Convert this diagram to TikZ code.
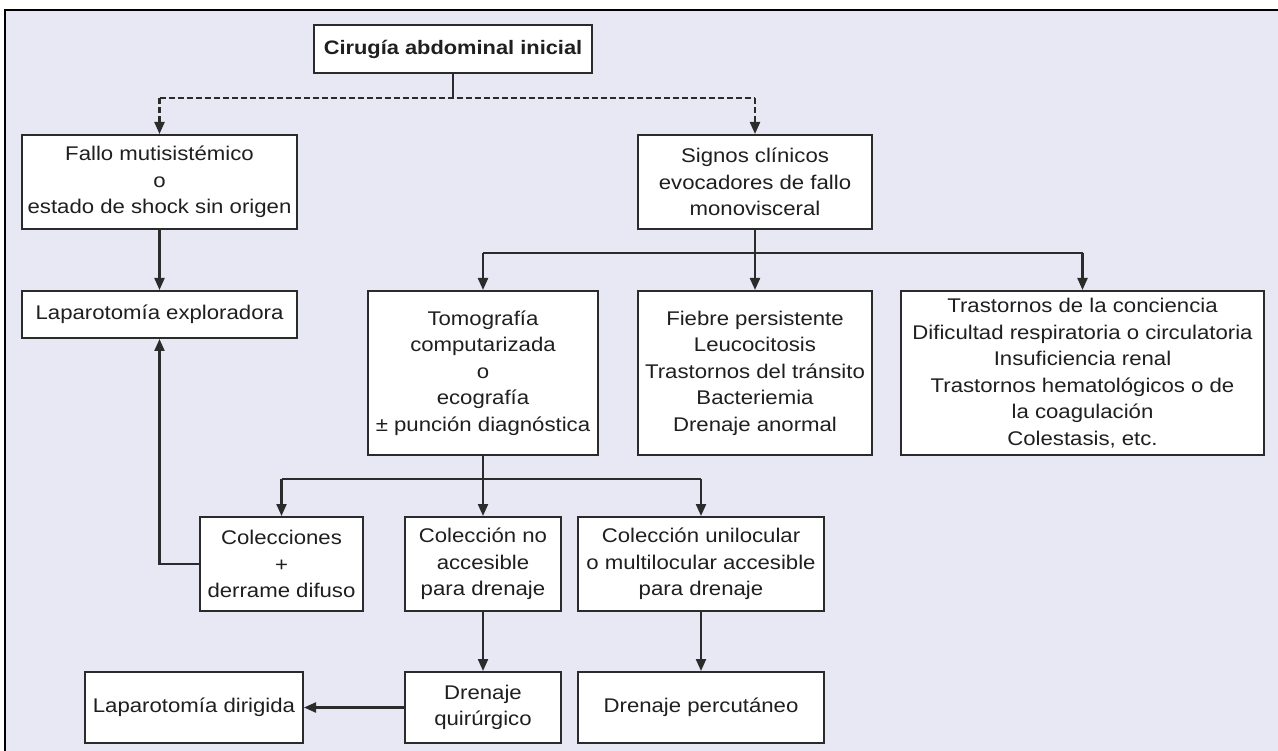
\documentclass[tikz,border=0pt]{standalone}
\usepackage{fontspec}
\setmainfont{Liberation Sans}[FakeStretch=1.12]
\usetikzlibrary{arrows.meta}
\definecolor{bg}{HTML}{E8E8F4}
\definecolor{ln}{HTML}{2B2B2B}
\begin{document}
\begin{tikzpicture}[x=1pt,y=-1pt,
 box/.style={draw=ln, line width=2pt, fill=white, inner sep=0pt, align=center, text=black!88, font=\fontsize{19.8}{26.5}\selectfont},
 conn/.style={draw=ln, line width=2.2pt},
 arr/.style={conn, -{Triangle[length=12pt,width=10pt]}},
 dsh/.style={dash pattern=on 6pt off 3pt}]
\useasboundingbox (0,0) rectangle (1278,751);
\begin{scope}
\clip (0,0) rectangle (1278,751);
\fill[white] (0,0) rectangle (1278,751);
\draw[line width=2.6pt, fill=bg] (5,10) rectangle (1300,780);
\end{scope}
% nodes
\node[box, font=\fontsize{19.5}{26.5}\selectfont\bfseries, minimum width=278, minimum height=48] (cir) at (453,49) {Cirugía abdominal inicial};
\node[box, minimum width=275, minimum height=94] (fallo) at (159.5,182) {Fallo mutisistémico\\o\\estado de shock sin origen};
\node[box, minimum width=234, minimum height=94] (signos) at (755,182) {Signos clínicos\\evocadores de fallo\\monovisceral};
\node[box, minimum width=275, minimum height=47] (lapexp) at (159.5,314.5) {Laparotomía exploradora};
\node[box, minimum width=230, minimum height=164] (tomo) at (483,373) {Tomografía\\computarizada\\o\\ecografía\\± punción diagnóstica};
\node[box, minimum width=234, minimum height=164] (fiebre) at (755,373) {Fiebre persistente\\Leucocitosis\\Trastornos del tránsito\\Bacteriemia\\Drenaje anormal};
\node[box, minimum width=363, minimum height=164] (trast) at (1082.5,373) {Trastornos de la conciencia\\Dificultad respiratoria o circulatoria\\Insuficiencia renal\\Trastornos hematológicos o de\\la coagulación\\Colestasis, etc.};
\node[box, minimum width=163, minimum height=94] (colec) at (281.5,564) {Colecciones\\+\\derrame difuso};
\node[box, minimum width=156, minimum height=94] (noacc) at (483,564) {Colección no\\accesible\\para drenaje};
\node[box, minimum width=246, minimum height=94] (unil) at (701,564) {Colección unilocular\\o multilocular accesible\\para drenaje};
\node[box, minimum width=156, minimum height=71] (drq) at (483,707.5) {Drenaje\\quirúrgico};
\node[box, minimum width=218, minimum height=71] (lapdir) at (194,707.5) {Laparotomía dirigida};
\node[box, minimum width=246, minimum height=71] (drperc) at (701,707.5) {Drenaje percutáneo};
% junction coordinates
\path (cir.south) ++(0,24) coordinate (d0);
\path (signos.south) ++(0,23) coordinate (s0);
\path (tomo.south) ++(0,23) coordinate (t0);
% connectors
\draw[conn] (cir.south) -- (d0);
\draw[conn,dsh] (fallo.north |- d0) -- (signos.north |- d0);
\draw[arr,dsh] (fallo.north |- d0) -- (fallo.north);
\draw[arr,dsh] (signos.north |- d0) -- (signos.north);
\draw[arr] (fallo.south) -- (lapexp.north);
\draw[conn] (signos.south) -- (s0);
\draw[conn] (tomo.north |- s0) -- (trast.north |- s0);
\draw[arr] (tomo.north |- s0) -- (tomo.north);
\draw[arr] (s0) -- (fiebre.north);
\draw[arr] (trast.north |- s0) -- (trast.north);
\draw[conn] (tomo.south) -- (t0);
\draw[conn] (colec.north |- t0) -- (unil.north |- t0);
\draw[arr] (colec.north |- t0) -- (colec.north);
\draw[arr] (t0) -- (noacc.north);
\draw[arr] (unil.north |- t0) -- (unil.north);
\draw[arr] (colec.west) -| (lapexp.south);
\draw[arr] (noacc.south) -- (drq.north);
\draw[arr] (unil.south) -- (drperc.north);
\draw[arr] (drq.west) -- (lapdir.east);
\end{tikzpicture}
\end{document}
